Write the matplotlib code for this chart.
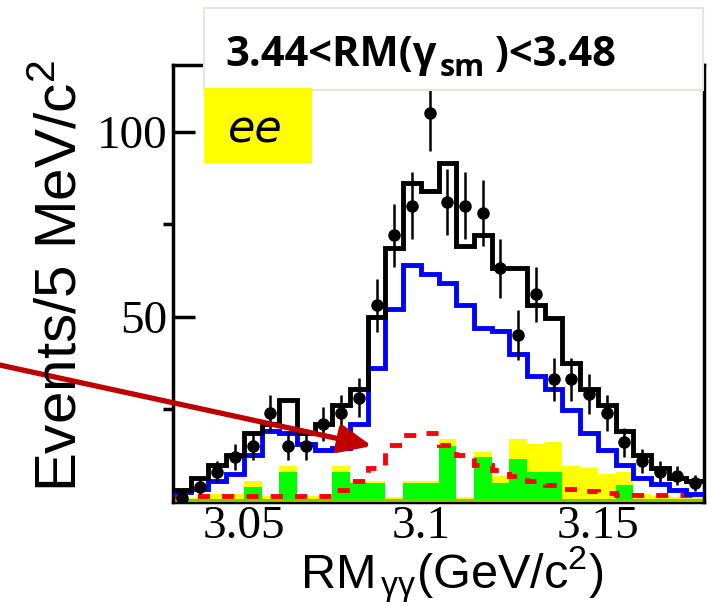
import numpy as np
import matplotlib
matplotlib.use("Agg")
import matplotlib.pyplot as plt
from matplotlib.patches import Rectangle

# bins of 5 MeV from 3.03 to 3.18
edges = np.round(3.03 + 0.005 * np.arange(31), 3)

data = [1, 4, 8, 12, 15, 24, 15, 15, 21, 24, 28, 53, 72, 80, 105, 81, 80, 78, 63, 45,
        56, 33, 33, 29, 24, 16, 11, 8, 7, 5]
total = [3, 6.3, 10, 12.6, 18.6, 21, 27.5, 18.5, 21, 26, 30.4, 50, 68.5, 86, 84, 91.5,
         69, 72, 63, 63, 53, 49.6, 37.5, 30.5, 26, 19, 12.6, 9, 6.4, 5.5]
signal = [2.5, 3.5, 5.5, 7.5, 12.5, 19, 18.5, 15.5, 14, 14.5, 21, 36, 52, 64, 61.5, 59,
          53, 47, 46, 40, 34, 30.5, 24.7, 18.5, 14, 9.8, 6.4, 4.8, 3, 2]
peaking = [1.5, 1.5, 1.5, 1.5, 1.5, 1.5, 1.5, 1.5, 1.5, 3, 5.5, 9, 15.3, 18, 18.5, 15.3,
           12.5, 10, 8.5, 7, 5.5, 4.5, 3.5, 2.8, 2.3, 1.8, 1.8, 1.8, 1.8, 1.8]
bkg_green = [0.8, 0.8, 0.8, 0.8, 4, 0.8, 8, 0.8, 0.8, 8, 5, 5, 0.8, 5, 5, 15, 0.8, 12, 5,
             11.5, 8, 8, 0.8, 0.8, 0.8, 4.5, 0.8, 0.8, 0.8, 0.8]
bkg_yellow = [1, 1, 2, 2, 5.5, 1.5, 9.5, 1.5, 1.5, 9.5, 5.5, 5.5, 1.2, 5.5, 5.5, 17, 1.2,
              13.5, 7, 17, 15.5, 16, 9.5, 9, 7.5, 8, 2, 1.5, 1.2, 1.2]

xticks = [3.05, 3.1, 3.15]
xticklabels = ["3.05", "3.1", "3.15"]
yticks = [50, 100]

plt.rcParams['mathtext.fontset'] = 'custom'
plt.rcParams['mathtext.rm'] = 'Liberation Sans'
plt.rcParams['mathtext.it'] = 'Liberation Sans'
plt.rcParams['mathtext.bf'] = 'Liberation Sans:bold'

W, H = 712, 606
fig = plt.figure(figsize=(W / 100, H / 100), dpi=100)
ax = fig.add_axes([173 / W, 1 - 501.5 / H, 531 / W, (501.5 - 65) / H])

centers = 0.5 * (edges[:-1] + edges[1:])

ax.stairs(bkg_yellow, edges, fill=True, color='#ffff00', zorder=1)
ax.stairs(bkg_green, edges, fill=True, color='#00ff00', zorder=1.1)
ax.axhline(0.5, color='#80c800', lw=2, zorder=1.2)
ax.stairs(peaking, edges, baseline=None, color='#ff0000', lw=3.5,
          linestyle=(0, (2.5, 2.5)), zorder=2)
ax.stairs(signal, edges, baseline=None, color='#0000ff', lw=3.5, zorder=3)
ax.stairs(total, edges, baseline=None, color='black', lw=3.5, zorder=4)
ax.errorbar(centers, data, yerr=np.sqrt(data), fmt='o', color='black', ms=8,
            elinewidth=1.8, capsize=0, zorder=5)

ax.set_xlim(3.03, 3.18)
ax.set_ylim(0, 118)
ax.set_axisbelow(True)
ax.set_xticks(xticks)
ax.set_xticklabels(xticklabels)
ax.set_yticks(yticks)
ax.set_yticks([25, 75], minor=True)
ax.tick_params(direction='in', labelsize=34, pad=4)
ax.tick_params(axis='x', pad=3)
ax.tick_params(axis='y', which='major', length=16, width=2.5)
ax.tick_params(axis='y', which='minor', length=7, width=2.5)
ax.tick_params(axis='x', length=0)
for lab in ax.get_xticklabels() + ax.get_yticklabels():
    lab.set_family('Liberation Serif')
for s in ax.spines.values():
    s.set_linewidth(2.5)
ax.spines['bottom'].set_zorder(0.5)

fig.text(62 / W, 1 - 276 / H, 'Events/5 MeV/c$^2$', rotation=90, ha='center',
         va='center', fontsize=42, family='Liberation Sans')
fig.text(452 / W, 1 - 588 / H, r'RM$_{\,\gamma\gamma}$(GeV/c$^2$)', ha='center',
         va='baseline', fontsize=35, family='Liberation Sans')

# cut label box on top
box = Rectangle((204 / W, 1 - 90 / H), (703 - 204) / W, (90 - 8) / H,
                transform=fig.transFigure, facecolor='white', edgecolor='#e6e6dc',
                lw=1.5, zorder=10)
fig.add_artist(box)
t1 = fig.text(225 / W, 1 - 66 / H, '3.44<RM(\u03b3', fontsize=30, weight='bold',
              family='Open Sans', va='baseline', zorder=11)
t2 = fig.add_artist(matplotlib.text.Annotation(
    'sm', xy=(1, 0), xycoords=t1, xytext=(2, -5), textcoords='offset points',
    fontsize=22, weight='bold', family='Open Sans', va='bottom', zorder=11))
t3 = fig.add_artist(matplotlib.text.Annotation(
    ' )<3.48', xy=(1, 0), xycoords=(t2, t1), xytext=(0, 0), textcoords='offset points',
    fontsize=30, weight='bold', family='Open Sans', va='bottom', zorder=11))

# channel tag
tag = Rectangle((204 / W, 1 - 163 / H), (312 - 204) / W, (163 - 88) / H,
                transform=fig.transFigure, facecolor='#ffff00', edgecolor='none', zorder=10)
fig.add_artist(tag)
fig.text(228 / W, 1 - 142 / H, 'ee', fontsize=32, style='italic',
         family='DejaVu Sans', va='baseline', zorder=11)

# arrow pointing at the peaking background
ax.annotate('', xy=(372, H - 446), xycoords='figure pixels', xytext=(-5, H - 364),
            textcoords='figure pixels', annotation_clip=False,
            arrowprops=dict(arrowstyle='-|>,head_length=1.5,head_width=0.65',
                            color='#c00000', lw=3.8, mutation_scale=13,
                            shrinkA=0, shrinkB=0), zorder=12)

fig.savefig('out.png', dpi=100)
